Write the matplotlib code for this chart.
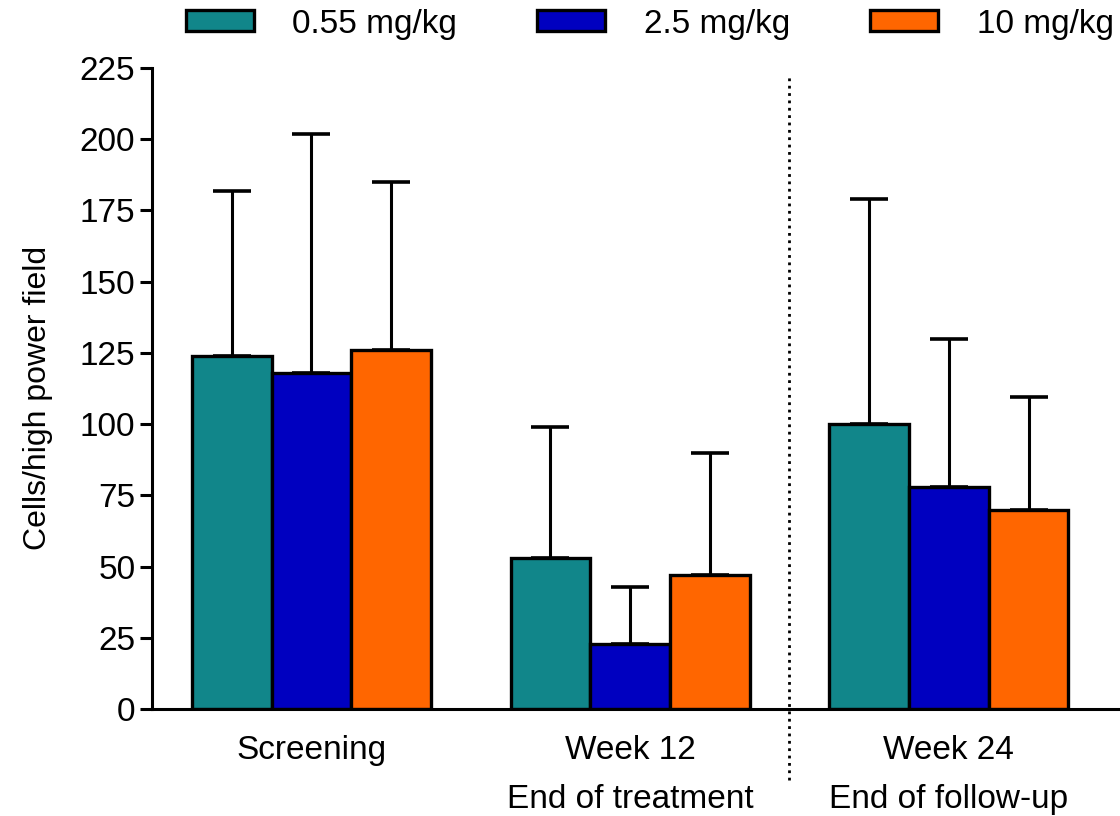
import numpy as np
import matplotlib.pyplot as plt
from matplotlib.patches import Patch

# Data
groups = ['Screening', 'Week 12\nEnd of treatment', 'Week 24\nEnd of follow-up']
doses = ['0.55 mg/kg', '2.5 mg/kg', '10 mg/kg']
means = {
    '0.55 mg/kg': [124, 53, 100],
    '2.5 mg/kg': [118, 23, 78],
    '10 mg/kg': [126, 47, 70],
}
upper = {
    '0.55 mg/kg': [182, 99, 179],
    '2.5 mg/kg': [202, 43, 130],
    '10 mg/kg': [185, 90, 109.5],
}
colors = ['#11868A', '#0000C0', '#FF6600']

plt.rcParams['font.family'] = ['Liberation Sans', 'DejaVu Sans']

fig = plt.figure(figsize=(11.2, 8.16), dpi=100)
ax = fig.add_axes([0.1357, 0.131, 0.8623, 0.7857])

x = np.arange(len(groups))
width = 0.25
for i, d in enumerate(doses):
    pos = x + (i - 1) * width
    m = np.array(means[d])
    err = np.array(upper[d]) - m
    ax.bar(pos, m, width, color=colors[i], edgecolor='black', linewidth=2.4, zorder=2)
    ax.errorbar(pos, m, yerr=[np.zeros_like(err), err], fmt='none', ecolor='black',
                elinewidth=2.2, capsize=14, capthick=2.6, zorder=1)

# separator between treatment and follow-up
ax.plot([1.5, 1.5], [-25, 222], linestyle=':', color='black', linewidth=2, clip_on=False)

ax.set_xlim(-0.5, 2.53)
ax.set_ylim(0, 225)
ax.set_yticks(np.arange(0, 226, 25))
ax.set_xticks(x)
ax.set_xticklabels(groups, linespacing=1.75)
ax.tick_params(axis='x', length=0, labelsize=24, pad=19)
ax.tick_params(axis='y', direction='out', length=9, width=2.2, labelsize=24, pad=3)
ax.set_ylabel('Cells/high power field', fontsize=23)
ax.yaxis.set_label_coords(-0.103, 0.485)

for s in ['top', 'right']:
    ax.spines[s].set_visible(False)
ax.spines['left'].set_linewidth(2.2)
ax.spines['bottom'].set_linewidth(2.2)

handles = [Patch(facecolor=c, edgecolor='black', linewidth=2.4) for c in colors]
fig.legend(handles, doses, loc='center', bbox_to_anchor=(0.58, 1 - 24 / 816), ncol=3,
           frameon=False, fontsize=24, handlelength=2.05, handleheight=0.6,
           handletextpad=1.15, columnspacing=2.4, borderpad=0.1)

plt.savefig('out.png', dpi=100)
